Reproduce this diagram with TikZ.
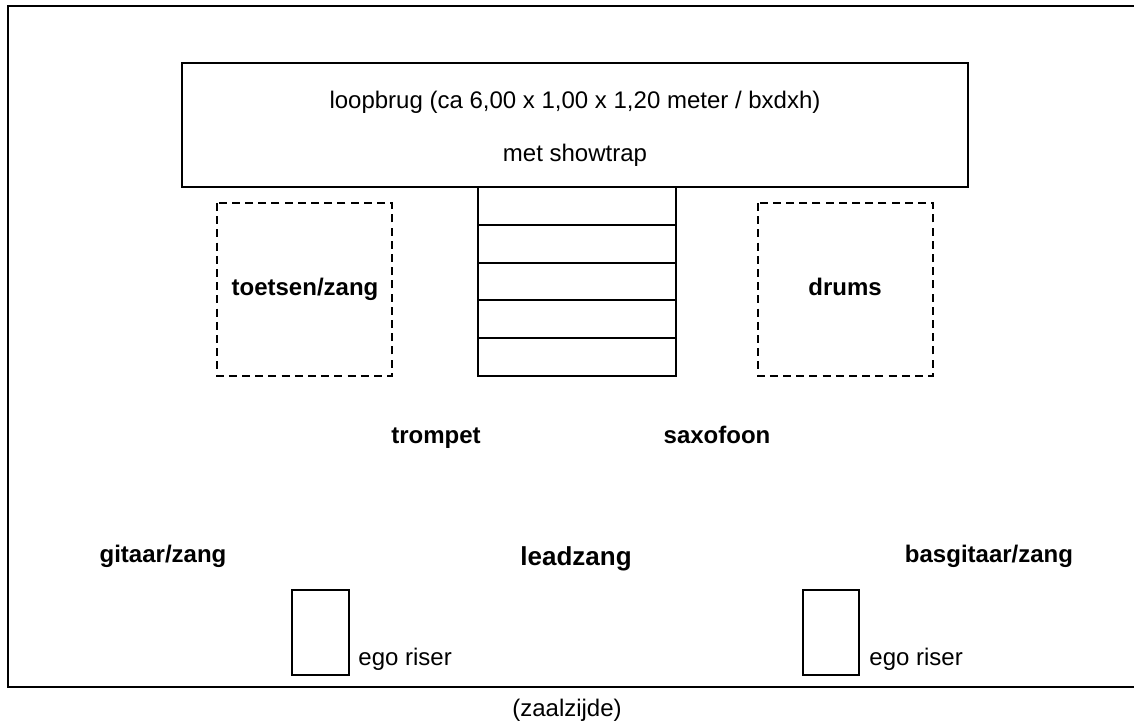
\documentclass[tikz,border=0pt]{standalone}
\usepackage{fontspec}
\setmainfont{Liberation Sans}
\begin{document}
\begin{tikzpicture}[x=0.5pt,y=-0.5pt,
  boxline/.style={draw=black,line width=0.75pt},
  dashbox/.style={draw=black,line width=0.75pt,dash pattern=on 4pt off 2.6pt},
  lbl/.style={font=\fontsize{12pt}{14pt}\selectfont\bfseries,inner sep=0pt,anchor=base},
  txt/.style={font=\fontsize{12pt}{14pt}\selectfont,inner sep=0pt,anchor=base},
  bigl/.style={font=\fontsize{13pt}{15pt}\selectfont\bfseries,inner sep=0pt,anchor=base}]
\useasboundingbox (0,0) rectangle (1134,724);
% frame open on the right
\draw[line width=1pt] (1134,6) -- (8,6) -- (8,687) -- (1134,687);
% walkway
\draw[boxline] (182,63) rectangle (968,187);
\node[txt] (loop) at (575,108) {loopbrug (ca 6,00 x 1,00 x 1,20 meter / bxdxh)};
\node[txt] (show) at (575,161) {met showtrap};
% stairs
\draw[boxline] (478,187) rectangle (676,376);
\foreach \yy in {225,263,300,338} \draw[boxline] (478,\yy) -- (676,\yy);
% dashed platforms
\draw[dashbox] (217,203) rectangle (392,376);
\draw[dashbox] (758,203) rectangle (933,376);
\node[lbl] (toets) at (305,295) {toetsen/zang};
\node[lbl] (drums) at (845,295) {drums};
\node[lbl] (tromp) at (436,443) {trompet};
\node[lbl] (sax) at (717,443) {saxofoon};
\node[lbl] (git) at (163,562) {gitaar/zang};
\node[bigl] (lead) at (576,565) {leadzang};
\node[lbl] (bas) at (989,562) {basgitaar/zang};
% ego risers
\draw[boxline] (292,590) rectangle (349,675);
\draw[boxline] (803,590) rectangle (859,675);
\node[txt,anchor=base west] (ego1) at (358,665) {ego riser};
\node[txt,anchor=base west] (ego2) at (869,665) {ego riser};
\node[txt] (zaal) at (567,716) {(zaalzijde)};
\end{tikzpicture}
\end{document}
